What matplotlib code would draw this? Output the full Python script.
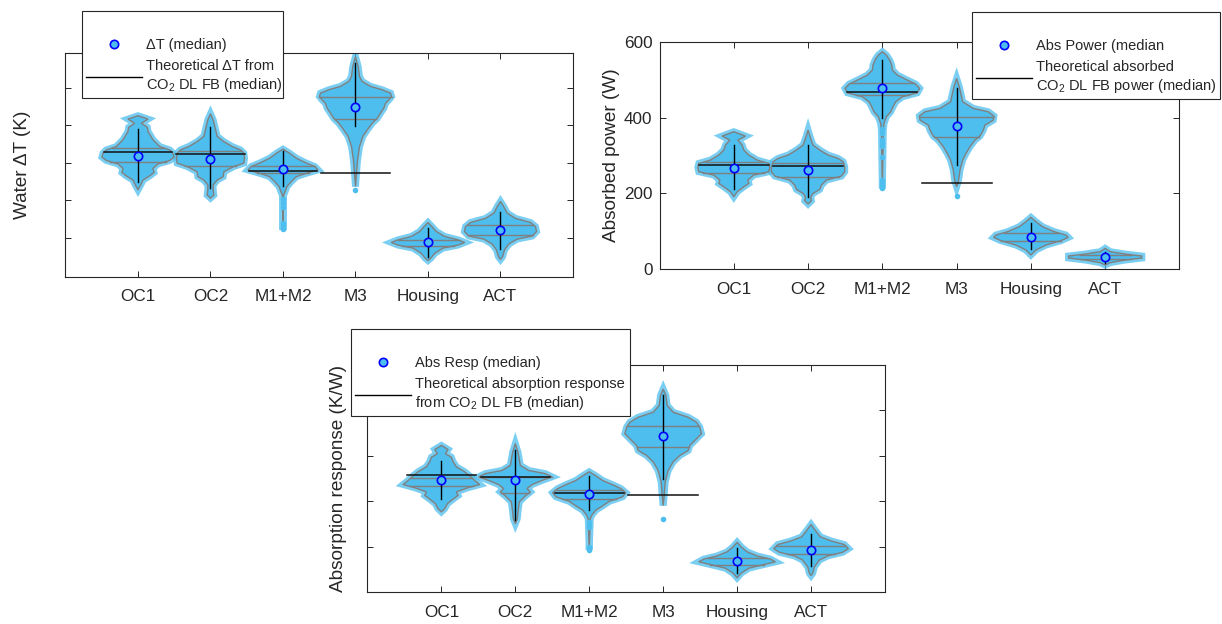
import numpy as np
import matplotlib
matplotlib.use('Agg')
import matplotlib.pyplot as plt
from matplotlib.lines import Line2D

plt.rcParams['font.family'] = ['Liberation Sans', 'DejaVu Sans']
plt.rcParams['mathtext.fontset'] = 'custom'
plt.rcParams['mathtext.rm'] = 'Liberation Sans'

categories = ['OC1', 'OC2', 'M1+M2', 'M3', 'Housing', 'ACT']

# --- Water dT (axis in tick units, labels hidden in the original) ---
dt_prof_y = [
    [4.25, 4.16, 4.05, 3.94, 3.83, 3.61, 3.43, 3.34, 3.25, 3.15, 3.06, 2.97, 2.85, 2.74, 2.65, 2.54, 2.41, 2.28],
    [4.30, 4.14, 3.70, 3.56, 3.43, 3.34, 3.25, 3.12, 2.99, 2.90, 2.76, 2.63, 2.54, 2.41, 2.28, 2.14, 2.06],
    [3.36, 3.25, 3.12, 2.99, 2.90, 2.81, 2.72, 2.63, 2.50, 2.37, 2.23, 2.14, 1.21],
    [5.82, 5.56, 5.29, 5.16, 5.03, 4.94, 4.85, 4.76, 4.67, 4.58, 4.45, 4.32, 4.18, 4.05, 3.87, 3.70, 3.43, 3.07, 2.72, 2.37],
    [1.41, 1.30, 1.17, 1.04, 0.95, 0.88, 0.81, 0.73, 0.59, 0.46, 0.40],
    [1.97, 1.83, 1.66, 1.52, 1.41, 1.30, 1.17, 1.05, 0.97, 0.84, 0.68, 0.50, 0.43],
]
dt_prof_w = [
    [0, .138, .046, .129, .138, .207, .299, .437, .483, .497, .437, .276, .207, .221, .161, .069, .037, 0],
    [0, .037, .092, .184, .299, .414, .460, .469, .460, .322, .184, .175, .092, .037, .037, .046, 0],
    [0, .092, .184, .322, .437, .483, .322, .184, .115, .055, .028, .008, 0],
    [0, .037, .055, .092, .207, .368, .483, .497, .460, .414, .391, .345, .299, .230, .161, .101, .055, .028, .014, 0],
    [0, .055, .115, .230, .414, .506, .414, .207, .092, .037, 0],
    [0, .046, .092, .207, .414, .483, .497, .437, .230, .115, .055, .028, 0],
]
dt_med = [3.18, 3.11, 2.84, 4.49, 0.88, 1.21]
dt_q1 = [3.03, 2.92, 2.74, 4.16, 0.79, 1.08]
dt_q3 = [3.39, 3.31, 2.90, 4.76, 0.95, 1.35]
dt_wlo = [2.50, 2.32, 2.37, 3.97, 0.50, 0.70]
dt_whi = [3.89, 3.94, 3.30, 5.65, 1.26, 1.70]
dt_theory = [3.28, 3.24, 2.78, 2.72]
dt_outliers = [[], [], [2.03, 1.92, 1.83, 1.41, 1.32, 1.23], [2.28], [], []]

# --- Absorbed power (W) ---
pw_prof_y = [
    [362.7, 351.3, 340.7, 327.5, 314.4, 301.2, 288.0, 279.2, 268.7, 257.3, 248.5, 235.3, 226.5, 217.7, 204.6, 191.4],
    [367.1, 349.5, 327.5, 314.4, 301.2, 292.4, 283.6, 270.4, 257.3, 245.8, 235.3, 222.1, 210.7, 200.2, 191.4, 180.8, 172.1],
    [573.5, 564.7, 551.5, 538.3, 525.2, 512.0, 498.8, 488.3, 476.9, 465.4, 454.9, 441.7, 428.5, 415.4, 402.2, 384.6, 367.1, 213.4],
    [503.2, 481.2, 454.9, 441.7, 424.2, 415.4, 404.0, 393.4, 380.2, 367.1, 351.3, 340.7, 323.1, 305.6, 288.0, 261.7, 235.3, 217.7],
    [136.9, 125.5, 112.3, 99.2, 90.4, 84.2, 75.5, 64.0, 50.9, 37.7],
    [55.3, 46.5, 40.3, 35.0, 29.8, 24.5, 17.5, 11.3],
]
pw_prof_w = [
    [0, .157, .054, .112, .135, .202, .314, .471, .484, .471, .269, .188, .202, .135, .045, 0],
    [0, .027, .067, .157, .269, .404, .471, .493, .493, .448, .247, .179, .157, .067, .036, .045, 0],
    [0, .054, .099, .126, .135, .202, .336, .448, .502, .471, .269, .179, .143, .112, .054, .022, .013, 0],
    [0, .036, .067, .081, .224, .426, .502, .493, .381, .359, .314, .247, .179, .126, .081, .045, .027, 0],
    [0, .067, .157, .314, .471, .502, .404, .202, .067, 0],
    [0, .067, .269, .493, .493, .269, .067, 0],
]
pw_med = [268.0, 261.7, 476.9, 377.6, 86.0, 33.3]
pw_q1 = [254.6, 244.1, 459.3, 349.5, 75.5, 26.3]
pw_q3 = [283.6, 281.0, 490.0, 400.4, 96.5, 38.6]
pw_wlo = [210.8, 191.4, 397.8, 274.8, 52.6, 15.8]
pw_whi = [327.5, 327.5, 551.5, 476.9, 122.9, 46.5]
pw_theory = [274.8, 272.2, 468.1, 228.3]
pw_outliers = [[], [], [371, 360, 341, 333, 325, 297, 235, 228, 221, 214], [193.2], [], []]

# --- Absorption response (K/W), labels hidden in the original ---
ar_prof_y = [
    [3.23, 3.14, 3.05, 2.97, 2.87, 2.76, 2.65, 2.56, 2.46, 2.37, 2.30, 2.21, 2.13, 2.05, 1.95, 1.84, 1.77],
    [3.27, 3.08, 2.79, 2.68, 2.61, 2.54, 2.46, 2.37, 2.28, 2.21, 2.12, 1.99, 1.77, 1.62, 1.51],
    [2.65, 2.56, 2.46, 2.35, 2.28, 2.19, 2.10, 2.00, 1.90, 1.81, 1.70, 1.62, 0.93],
    [4.47, 4.33, 4.11, 3.96, 3.85, 3.74, 3.63, 3.49, 3.34, 3.23, 3.12, 3.01, 2.87, 2.68, 2.43, 2.13, 1.91],
    [1.10, 1.00, 0.89, 0.80, 0.73, 0.67, 0.61, 0.53, 0.42, 0.32],
    [1.49, 1.37, 1.22, 1.13, 1.05, 0.96, 0.88, 0.80, 0.71, 0.56, 0.42, 0.37],
]
ar_prof_w = [
    [0, .090, .054, .135, .158, .203, .315, .383, .450, .518, .360, .203, .225, .158, .081, .045, 0],
    [0, .036, .068, .180, .405, .495, .360, .225, .158, .203, .135, .054, .036, .027, 0],
    [0, .090, .180, .338, .428, .495, .450, .270, .180, .090, .036, .014, 0],
    [0, .036, .054, .135, .338, .450, .495, .518, .428, .360, .338, .225, .135, .068, .027, .014, 0],
    [0, .054, .135, .270, .450, .518, .360, .158, .054, 0],
    [0, .054, .126, .270, .450, .505, .428, .225, .113, .045, .023, 0],
]
ar_med = [2.46, 2.46, 2.17, 3.43, 0.68, 0.94]
ar_q1 = [2.33, 2.19, 2.05, 3.19, 0.61, 0.84]
ar_q3 = [2.51, 2.54, 2.24, 3.65, 0.75, 1.02]
ar_wlo = [2.05, 1.59, 1.81, 2.50, 0.42, 0.58]
ar_whi = [2.88, 3.12, 2.56, 4.34, 0.98, 1.29]
ar_theory = [2.57, 2.53, 2.19, 2.13]
ar_outliers = [[], [], [1.55, 1.49, 1.44, 1.00, 0.94], [1.62], [], []]

BLUE = '#4DBEEE'
GREY = '#808080'
AXC = '#262626'


def draw_violins(ax, prof_y, prof_w, med, q1, q3, wlo, whi, theory, outliers):
    for i in range(len(categories)):
        x = i + 1
        y = np.array(prof_y[i])
        w = np.array(prof_w[i])
        xs = np.concatenate([x + w, (x - w)[::-1]])
        ys = np.concatenate([y, y[::-1]])
        # halo of the scattered points, then the violin itself
        ax.fill(xs, ys, fc=BLUE, ec=BLUE, lw=5, alpha=0.75, zorder=2)
        ax.fill(xs, ys, fc=BLUE, ec=GREY, lw=1.0, zorder=3)
        for q in (q1[i], q3[i]):
            hw = np.interp(q, y[::-1], w[::-1])
            ax.plot([x - hw, x + hw], [q, q], color=GREY, lw=1.0, zorder=3)
        for o in outliers[i]:
            ax.plot(x, o, 'o', ms=4, color=BLUE, mec='none', zorder=3)
        ax.plot([x, x], [wlo[i], whi[i]], color='k', lw=1.0, zorder=4)
        if i < len(theory):
            ax.plot([x - 0.47, x + 0.47], [theory[i], theory[i]], color='#111111', lw=1.1, zorder=5)
        ax.plot(x, med[i], 'o', ms=6, mfc=BLUE, mec='#0000FF', mew=1.2, zorder=6)


def style_axis(ax, ylim, yticks, show_ylabels):
    ax.set_xlim(0, 7)
    ax.set_ylim(*ylim)
    ax.set_xticks(range(1, 7))
    ax.set_xticklabels(categories)
    ax.set_yticks(yticks)
    if not show_ylabels:
        ax.set_yticklabels([])
    ax.tick_params(direction='in', length=4, width=0.7, top=True, right=True,
                   colors=AXC, labelsize=12.3)
    ax.tick_params(axis='x', pad=9)
    ax.tick_params(axis='y', pad=5)
    for sp in ax.spines.values():
        sp.set_color(AXC)
        sp.set_linewidth(0.8)


def add_legend(ax, fig, bbox, marker_label, line_label):
    handles = [Line2D([], [], ls='none', marker='o', ms=6, mfc=BLUE, mec='#0000FF', mew=1.2),
               Line2D([], [], color='k', lw=1.0)]
    leg = ax.legend(handles, [marker_label, line_label], loc='upper left',
                    bbox_to_anchor=bbox, bbox_transform=fig.transFigure, mode='expand',
                    borderaxespad=0, fancybox=False, framealpha=1, edgecolor=AXC,
                    fontsize=10.5, handlelength=3.8, handletextpad=0.3, labelspacing=0.5,
                    borderpad=0.3, title=' ', title_fontsize=12)
    for t in leg.get_texts():
        t.set_linespacing(1.2)
        t.set_color(AXC)
    leg.get_frame().set_linewidth(0.8)
    leg.set_zorder(10)
    return leg


fig = plt.figure(figsize=(12.22, 6.24), dpi=100)
ax1 = fig.add_axes([0.0536, 0.5566, 0.4153, 0.358])
ax2 = fig.add_axes([0.5397, 0.5684, 0.4255, 0.3647])
ax3 = fig.add_axes([0.3007, 0.0508, 0.4235, 0.3643])

draw_violins(ax1, dt_prof_y, dt_prof_w, dt_med, dt_q1, dt_q3, dt_wlo, dt_whi, dt_theory, dt_outliers)
draw_violins(ax2, pw_prof_y, pw_prof_w, pw_med, pw_q1, pw_q3, pw_wlo, pw_whi, pw_theory, pw_outliers)
draw_violins(ax3, ar_prof_y, ar_prof_w, ar_med, ar_q1, ar_q3, ar_wlo, ar_whi, ar_theory, ar_outliers)

style_axis(ax1, (-0.03, 5.91), [1, 2, 3, 4, 5], False)
style_axis(ax2, (0, 600), [0, 200, 400, 600], True)
style_axis(ax3, (0, 5), [1, 2, 3, 4], False)

ax1.set_ylabel('Water \u0394T (K)', fontsize=13.7, color=AXC)
ax1.yaxis.set_label_coords(-0.068, 0.5)
ax2.set_ylabel('Absorbed power (W)', fontsize=13.7, color=AXC)
ax2.yaxis.set_label_coords(-0.076, 0.5)
ax3.set_ylabel('Absorption response (K/W)', fontsize=13.7, color=AXC)
ax3.yaxis.set_label_coords(-0.040, 0.5)

add_legend(ax1, fig, (0.0671, 0.8462, 0.1645, 0.1362), '\u0394T (median)',
           'Theoretical \u0394T from\nCO$_\\mathregular{2}$ DL FB (median)')
add_legend(ax2, fig, (0.7954, 0.8429, 0.2030, 0.1379), 'Abs Power (median',
           'Theoretical absorbed\nCO$_\\mathregular{2}$ DL FB power (median)')
add_legend(ax3, fig, (0.2872, 0.3317, 0.2283, 0.1411), 'Abs Resp (median)',
           'Theoretical absorption response\nfrom CO$_\\mathregular{2}$ DL FB (median)')

fig.savefig('out.png', dpi=100)
